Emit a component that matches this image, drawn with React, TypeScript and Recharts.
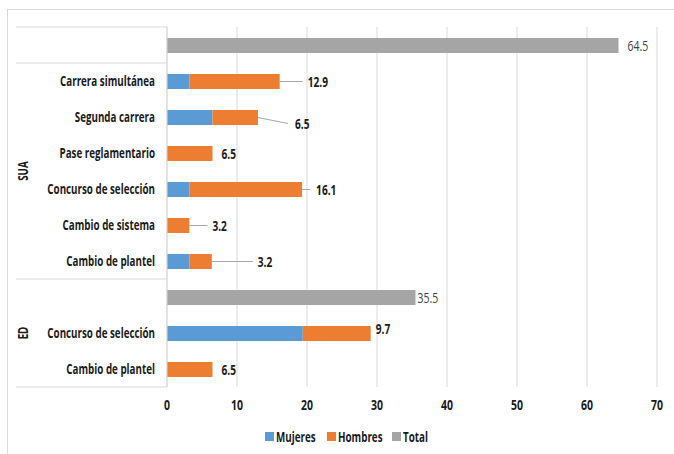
import React from 'react'
import { BarChart, Bar, XAxis, YAxis, CartesianGrid } from 'recharts'

const categories = [
  '',
  'Carrera simultánea',
  'Segunda carrera',
  'Pase reglamentario',
  'Concurso de selección',
  'Cambio de sistema',
  'Cambio de plantel',
  '',
  'Concurso de selección',
  'Cambio de plantel',
]
const mujeres = [null, 3.2, 6.5, null, 3.2, null, 3.2, null, 19.4, null]
const hombres = [null, 12.9, 6.5, 6.5, 16.1, 3.2, 3.2, null, 9.7, 6.5]
const total = [64.5, null, null, null, null, null, null, 35.5, null, null]
const xTicks = [0, 10, 20, 30, 40, 50, 60, 70]
const groups = [
  { name: '', from: 0, to: 0 },
  { name: 'SUA', from: 1, to: 6 },
  { name: 'ED', from: 7, to: 9 },
]

// hand-placed label layout (px from bar end), like the Excel original
const labelLead = [0, 23, 30, 0, 8, 18, 41, 0, 0, 0]
const labelGap = [9, 28, 37, 9, 14, 23, 46, 2, 5, 9]
const labelDy = [0, 0, 6, 0, 0, 0, 0, 0, -5, 0]

const FONT = "'Open Sans', 'Liberation Sans', sans-serif"
const SX = 0.7 // squeeze to mimic a condensed face
const GRID = '#D9D9D9'
const INK = '#1a1a1a'
const LEFT = 167
const HALF_BAND = 18

const data = categories.map((name, i) => ({
  id: i,
  name,
  mujeres: mujeres[i],
  hombres: hombres[i],
  total: total[i],
}))

function CondText({
  x,
  y,
  anchor = 'start',
  rotate = 0,
  weight = 700,
  size = 14,
  fill = INK,
  children,
}: any) {
  return (
    <text
      transform={`translate(${x}, ${y}) rotate(${rotate}) scale(${SX}, 1)`}
      textAnchor={anchor}
      dominantBaseline="central"
      fontFamily={FONT}
      fontWeight={weight}
      fontSize={size}
      fill={fill}
    >
      {children}
    </text>
  )
}

function CategoryTick(props: any) {
  const { x, y, payload } = props
  const i = Number(payload.value)
  const group = groups.find((g) => g.from === i)
  const last = i === categories.length - 1
  return (
    <g>
      <CondText x={x} y={y} anchor="end">
        {categories[i]}
      </CondText>
      {group && (
        <line x1={16} x2={LEFT} y1={y - HALF_BAND} y2={y - HALF_BAND} stroke={GRID} />
      )}
      {group && group.name && (
        <CondText
          x={23}
          y={y - HALF_BAND + (group.to - group.from + 1) * HALF_BAND}
          anchor="middle"
          rotate={-90}
        >
          {group.name}
        </CondText>
      )}
      {last && (
        <line x1={16} x2={LEFT} y1={y + HALF_BAND} y2={y + HALF_BAND} stroke={GRID} />
      )}
    </g>
  )
}

function ValueTick(props: any) {
  const { x, y, payload } = props
  return (
    <CondText x={x} y={y + 5} anchor="middle" size={15}>
      {payload.value}
    </CondText>
  )
}

function makeShape(key: 'hombres' | 'total') {
  return function LabelledBar(props: any) {
    const { x, y, width, height, fill, payload } = props
    const i = payload.id
    const value = payload[key]
    const end = x + width
    const yc = y + height / 2
    const lead = labelLead[i]
    const dy = labelDy[i]
    return (
      <g>
        <rect x={x} y={y} width={width} height={height} fill={fill} />
        {value != null && lead > 0 && (
          <line
            x1={end}
            y1={yc}
            x2={end + lead}
            y2={yc + dy}
            stroke="#A6A6A6"
            strokeWidth={1}
          />
        )}
        {value != null && (
          <CondText
            x={end + labelGap[i]}
            y={yc + dy}
            weight={key === 'total' ? 400 : 700}
            size={key === 'total' ? 15 : 14.5}
            fill={key === 'total' ? '#404040' : INK}
          >
            {value}
          </CondText>
        )}
      </g>
    )
  }
}

const legendItems = [
  { label: 'Mujeres', color: '#5B9BD5', left: 265 },
  { label: 'Hombres', color: '#ED7D31', left: 327 },
  { label: 'Total', color: '#A5A5A5', left: 392 },
]

export default function App() {
  return (
    <div
      style={{
        position: 'absolute',
        left: 0,
        top: 0,
        width: 674,
        height: 454,
        overflow: 'hidden',
        background: '#fff',
      }}
    >
      <div
        style={{
          position: 'absolute',
          left: 7,
          top: 9,
          width: 700,
          height: 480,
          border: `1px solid ${GRID}`,
        }}
      />
      <div style={{ position: 'absolute', left: 0, top: 0 }}>
        <BarChart
          width={674}
          height={454}
          data={data}
          layout="vertical"
          margin={{ top: 27, right: 17, bottom: 0, left: 0 }}
          barSize={15}
        >
          <CartesianGrid horizontal={false} stroke={GRID} />
          <XAxis
            type="number"
            domain={[0, 70]}
            ticks={xTicks}
            height={67}
            axisLine={false}
            tickLine={false}
            tickSize={0}
            tickMargin={12}
            tick={<ValueTick />}
          />
          <YAxis
            type="category"
            dataKey="id"
            width={LEFT}
            axisLine={{ stroke: GRID }}
            tickLine={false}
            tickSize={0}
            tickMargin={12}
            tick={<CategoryTick />}
            interval={0}
          />
          <Bar dataKey="mujeres" stackId="a" fill="#5B9BD5" isAnimationActive={false} />
          <Bar
            dataKey="hombres"
            stackId="a"
            fill="#ED7D31"
            isAnimationActive={false}
            shape={makeShape('hombres')}
          />
          <Bar
            dataKey="total"
            stackId="a"
            fill="#A5A5A5"
            isAnimationActive={false}
            shape={makeShape('total')}
          />
        </BarChart>
      </div>
      {legendItems.map((item) => (
        <div
          key={item.label}
          style={{
            position: 'absolute',
            left: item.left,
            top: 427,
            height: 18,
            display: 'flex',
            alignItems: 'center',
            fontFamily: FONT,
            fontWeight: 700,
            fontSize: 14,
            color: INK,
            whiteSpace: 'nowrap',
          }}
        >
          <span
            style={{
              display: 'inline-block',
              width: 9,
              height: 9,
              background: item.color,
              marginRight: 2,
            }}
          />
          <span
            style={{
              display: 'inline-block',
              transform: `scaleX(${SX})`,
              transformOrigin: 'left center',
            }}
          >
            {item.label}
          </span>
        </div>
      ))}
    </div>
  )
}
